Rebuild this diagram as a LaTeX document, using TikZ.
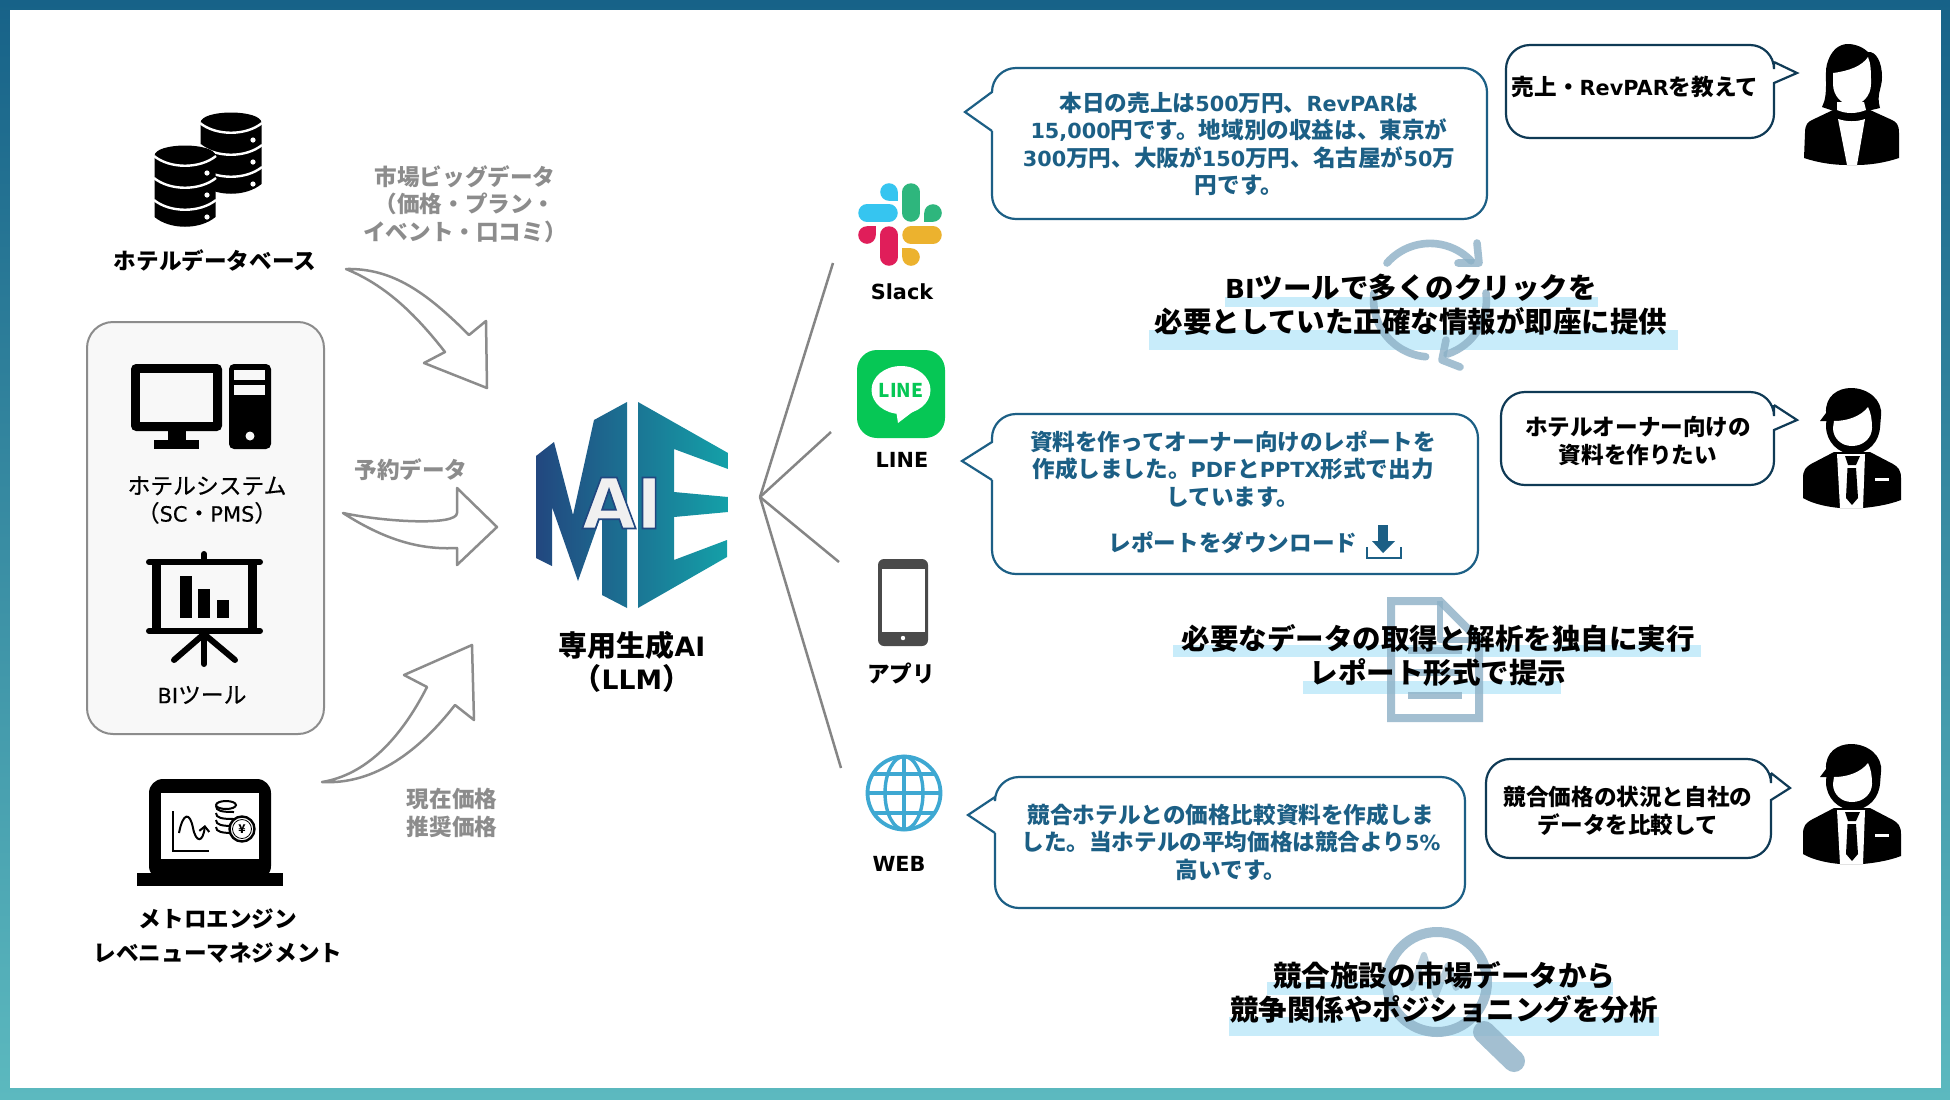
\documentclass[tikz,border=0pt]{standalone}
\usepackage{fontspec}
\setmainfont{Noto Sans CJK JP}
\newfontfamily\latinfam[Scale=0.92]{DejaVu Sans}
\newfontfamily\medfam[FakeBold=0.5]{Noto Sans CJK JP}
\newfontfamily\medlatin[Scale=0.92,FakeBold=0.3]{DejaVu Sans}
\newcommand{\ltn}[1]{{\latinfam #1}}
\usepackage{xcolor}
\usepackage{tikz}
\usetikzlibrary{calc,arrows.meta}
\definecolor{frametop}{HTML}{176288}
\definecolor{framelow}{HTML}{5CB9BF}
\definecolor{replyblue}{HTML}{1C5F85}
\definecolor{askdark}{HTML}{0F3A55}
\definecolor{flowgray}{HTML}{8C8C8C}
\definecolor{softbg}{HTML}{F8F8F8}
\definecolor{markband}{HTML}{C8ECFA}
\definecolor{ghost}{HTML}{8CB0C6}
\definecolor{logonavy}{HTML}{22477F}
\definecolor{logoteal}{HTML}{14A0A8}
\definecolor{globeblue}{HTML}{3EA8D2}
\definecolor{linegreen}{HTML}{06C755}
\definecolor{phonegray}{HTML}{4A4A4A}
\tikzset{
  lbl/.style={font=\bfseries\fontsize{11.3}{13.7}\selectfont,align=center,inner sep=0pt},
  thinlbl/.style={font=\medfam\fontsize{11.4}{13.7}\selectfont,align=center,inner sep=0pt},
  graylbl/.style={lbl,text=flowgray},
  replylbl/.style={lbl,text=replyblue},
  biglbl/.style={font=\bfseries\fontsize{14.25}{17}\selectfont,align=center,inner sep=0pt},
  blockarr/.style={draw=flowgray,fill=white,line width=1.25pt,line join=round},
  spoke/.style={draw=flowgray!95!black,line width=1.25pt},
  replybub/.style={draw=replyblue,fill=white,line width=1.1pt},
  askbub/.style={draw=askdark,fill=white,line width=1.1pt},
  ghosticon/.style={draw=ghost,opacity=.8,line cap=round,line join=round},
}
\begin{document}
\begin{tikzpicture}[x=0.5pt,y=-0.5pt]
\useasboundingbox (0,0) rectangle (1950,1099);
% frame
\shade[top color=frametop,bottom color=framelow] (0,0) rectangle (1950,1099);
\fill[white] (10,10) rectangle (1941,1088);

% sources on the left
\foreach \x/\y in {231/112,185/145}{
  \fill (\x-30.5,\y+11) .. controls (\x-30.5,\y-3) and (\x+30.5,\y-3) .. (\x+30.5,\y+11)
    -- (\x+30.5,\y+72) .. controls (\x+15,\y+85) and (\x-15,\y+85) .. (\x-30.5,\y+72) -- cycle;
  \foreach \k in {11,33,55}{
    \draw[white,line width=1.2pt] (\x-31,\y+\k) .. controls (\x-15,\y+\k+13) and (\x+15,\y+\k+13) .. (\x+31,\y+\k);
  }
  \foreach \k in {28,50,72}{\fill[white] (\x+22,\y+\k) circle (2.6);}
}
\node[lbl] (dblbl) at (215,261) {ホテルデータベース};

\draw[flowgray,fill=softbg,line width=1pt,rounded corners=13pt] (87,322) rectangle (324,734);
% computer
\fill[rounded corners=2.5pt] (131,364) rectangle (222,431);
\fill[softbg] (140,373) rectangle (213,422);
\fill (168,431) rectangle (186,441);
\fill (154,440) rectangle (199,449);
\fill[rounded corners=2.5pt] (229,364) rectangle (271,449);
\fill[softbg] (234,370) rectangle (265,380);
\fill[softbg] (234,385) rectangle (265,395);
\fill[softbg] (250,436) circle (4.5);
\node[thinlbl] (syslbl) at (207,500) {ホテルシステム\\（{\medlatin SC}・{\medlatin PMS}）};
% screen with bars
\draw[line width=3pt,line cap=round] (149,562) -- (260,562);
\draw[line width=3pt,line cap=round] (149,631) -- (260,631);
\draw[line width=3pt,line cap=round] (204,554) -- (204,560);
\draw[line width=4.5pt] (156.5,562) -- (156.5,631);
\draw[line width=4.5pt] (252.5,562) -- (252.5,631);
\fill (180,576) rectangle (192,618);
\fill (198,589) rectangle (210,618);
\fill (217,600) rectangle (229,618);
\draw[line width=3pt,line cap=round] (204,634) -- (204,664);
\draw[line width=3pt,line cap=round] (204,634) -- (174,660);
\draw[line width=3pt,line cap=round] (204,634) -- (235,660);
\node[thinlbl] (bilbl) at (202,695) {{\medlatin BI}ツール};

% laptop
\fill[rounded corners=7pt] (149,779) rectangle (271,880);
\fill (137,873) rectangle (283,886);
\fill[white] (161,793) rectangle (259,859);
\draw[line width=1pt] (173,811) -- (173,851) -- (209,851);
\draw[line width=1pt,-{Straight Barb[length=2.5pt,width=5pt]}] (179,833) .. controls (183,812) and (190,812) .. (193,828) .. controls (196,843) and (203,843) .. (205,825);
\draw[line width=1pt,fill=white] (226,805) ellipse [x radius=10,y radius=4];
\foreach \k in {0,7,14,21}{
  \draw[line width=1pt] (216,806+\k) .. controls (216,811+\k) and (222,812+\k) .. (234,812+\k);
}
\draw[line width=1.2pt,fill=white] (242,829) circle (12.5);
\draw[line width=.4pt] (242,829) circle (9.5);
\node[font=\bfseries\fontsize{6}{6}\selectfont,inner sep=0pt] (yen) at (242,829) {¥};
\node[lbl,font=\bfseries\fontsize{11.3}{17}\selectfont] (melbl) at (218,936) {メトロエンジン\\レベニューマネジメント};

% block arrows
\draw[blockarr] (346,269) .. controls (393,268) and (427,293) .. (469,335) -- (486,321) -- (487,388) -- (424,363) -- (445,352)
  .. controls (410,307) and (380,283) .. (346,269) -- cycle;
\draw[blockarr] (343,513) .. controls (385,522) and (457,526) .. (457,513) -- (457,488) -- (497,527) -- (457,565) -- (457,548)
  .. controls (420,550) and (385,540) .. (343,513) -- cycle;
\draw[blockarr] (322,782) .. controls (365,775) and (400,740) .. (427,687) -- (404,675) -- (472,645) -- (474,720) -- (455,705)
  .. controls (420,750) and (375,785) .. (322,782) -- cycle;
\node[graylbl] (biglbl) at (465,204) {市場ビッグデータ\\（価格・プラン・\\イベント・口コミ）};
\node[graylbl] (rsvlbl) at (411,470) {予約データ};
\node[graylbl,font=\bfseries\fontsize{11.3}{14.3}\selectfont] (pricelbl) at (452,813) {現在価格\\推奨価格};

% logo
\begin{scope}
\clip (536,456) -- (554,442) -- (573,515) -- (594,420) -- (627,402) -- (627,608) -- (602,595) -- (602,513) -- (578,581) -- (552,507) -- (552,566) -- (536,558) -- cycle
  (638,402) -- (728,453) -- (728,469) -- (674,449) -- (674,492) -- (728,497) -- (728,512) -- (674,517) -- (674,560) -- (727,540) -- (727,557) -- (638,608) -- cycle;
\shade[left color=logonavy,right color=logoteal] (536,402) rectangle (728,608);
\end{scope}
\node[font=\bfseries\fontsize{38}{38}\selectfont,text=black!6,inner sep=0pt] (ai) at (622,503) {\special{pdf:code 2 Tr 0.8 w 0.13 0.28 0.5 RG}\ltn{AI}\special{pdf:code 0 Tr 0 w}};
\node[lbl,font=\bfseries\fontsize{14.5}{16.5}\selectfont] (llm) at (632,662) {専用生成\ltn{AI}\\（\ltn{LLM}）};

% fan of lines
\coordinate (hub) at (760,497);
\coordinate (slackend) at (833,263);
\coordinate (lineend) at (831,432);
\coordinate (append) at (839,562);
\coordinate (webend) at (841,768);
\foreach \e in {slackend,lineend,append,webend}{\draw[spoke] (hub) -- (\e);}

% slack
\foreach \c/\xa/\ya/\xb/\yb in {36C5F0/867/213/889/213,2EB67D/911/192/911/213,E01E5A/889/235/889/257,ECB22E/911/235/933/235}{
  \definecolor{tmpc}{HTML}{\c}
  \draw[tmpc,line width=8.75pt,line cap=round] (\xa,\ya) -- (\xb,\yb);
}
\foreach \c/\xa/\ya/\xs/\ys in {36C5F0/889/192/898/201,2EB67D/933/213/924/222,E01E5A/867/235/876/226,ECB22E/911/257/902/248}{
  \definecolor{tmpc}{HTML}{\c}
  \fill[tmpc] (\xa,\ya) circle (8.8);
  \fill[tmpc] (\xa,\ya) rectangle (\xs,\ys);
}
\node[lbl] (slacklbl) at (902,292) {\ltn{Slack}};

% line
\fill[linegreen,rounded corners=10pt] (857,350) rectangle (945,438);
\fill[white] (901,390) ellipse [x radius=29.5,y radius=24];
\fill[white] (896,410) -- (898,423) -- (915,410) -- cycle;
\node[font=\bfseries\fontsize{9.5}{9.5}\selectfont,text=linegreen,inner sep=0pt] (lineicon) at (901,390) {LINE};
\node[lbl] (linelbl) at (902,460) {\ltn{LINE}};

% phone
\fill[phonegray,rounded corners=3pt] (878,559) rectangle (928,646);
\fill[white] (882,569) rectangle (925,632);
\fill[white] (903,638) circle (2.2);
\node[lbl] (applbl) at (901,673) {アプリ};

% globe
\draw[globeblue,line width=1.9pt] (904,793) circle (36.5);
\draw[globeblue,line width=1.7pt] (904,793) ellipse [x radius=19,y radius=36.5];
\draw[globeblue,line width=1.7pt] (904,757) -- (904,830);
\draw[globeblue,line width=1.7pt] (868,793) -- (940,793);
\draw[globeblue,line width=1.7pt] (874,774) -- (934,774);
\draw[globeblue,line width=1.7pt] (874,813) -- (934,813);
\node[lbl] (weblbl) at (899,864) {\ltn{WEB}};

% answers
\draw[replybub] (992,131) -- (965,112) -- (992,92) [rounded corners=12pt] -- (992,68) -- (1487,68) -- (1487,219) -- (992,219) -- (992,131);
\node[replylbl] (ans1) at (1239,144) {本日の売上は\ltn{500}万円、\ltn{RevPAR}は\\\ltn{15,000}円です。地域別の収益は、東京が\\\ltn{300}万円、大阪が\ltn{150}万円、名古屋が\ltn{50}万\\円です。};
\draw[replybub] (992,480) -- (962,461) -- (992,442) [rounded corners=12pt] -- (992,414) -- (1478,414) -- (1478,574) -- (992,574) -- (992,480);
\node[replylbl] (ans2) at (1233,469) {資料を作ってオーナー向けのレポートを\\作成しました。\ltn{PDF}と\ltn{PPTX}形式で出力\\しています。};
\node[replylbl] (dllbl) at (1233,543) {レポートをダウンロード};
\fill[replyblue] (1378,525) rectangle (1388,542);
\fill[replyblue] (1372,541) -- (1395,541) -- (1383,553) -- cycle;
\draw[replyblue,line width=1.2pt] (1367,547) -- (1367,558) -- (1401,558) -- (1401,547);
\draw[replybub] (995,833) -- (968,815) -- (995,797) [rounded corners=12pt] -- (995,777) -- (1465,777) -- (1465,908) -- (995,908) -- (995,833);
\node[replylbl] (ans3) at (1231,842) {競合ホテルとの価格比較資料を作成しま\\した。当ホテルの平均価格は競合より\ltn{5\%}\\高いです。};

% questions
\draw[askbub] (1774,62) -- (1797,73) -- (1774,83) [rounded corners=12pt] -- (1774,138) -- (1506,138) -- (1506,45) -- (1774,45) -- (1774,62);
\node[lbl] (ask1) at (1635,87) {売上・\ltn{RevPAR}を教えて};
\draw[askbub] (1774,405) -- (1797,420) -- (1774,430) [rounded corners=12pt] -- (1774,485) -- (1501,485) -- (1501,392) -- (1774,392) -- (1774,405);
\node[lbl] (ask2) at (1638,441) {ホテルオーナー向けの\\資料を作りたい};
\draw[askbub] (1771,773) -- (1790,788) -- (1771,800) [rounded corners=12pt] -- (1771,858) -- (1486,858) -- (1486,759) -- (1771,759) -- (1771,773);
\node[lbl] (ask3) at (1628,811) {競合価格の状況と自社の\\データを比較して};

% woman
\begin{scope}[shift={(1804,44)}]
\fill (18,63) .. controls (25,50) and (20,30) .. (23,20) .. controls (27,6) and (35,0) .. (44,0) .. controls (52,0) and (60,4) .. (64,8)
  .. controls (72,7) and (78,18) .. (78,33) .. controls (78,45) and (72,50) .. (76,64) -- (59,68) -- (33,68) -- cycle;
\fill (0,114) -- (1,89) .. controls (1,80) and (4,78) .. (8,76) -- (29,66) -- (66,66) -- (88,76) .. controls (92,78) and (95,80) .. (95,89)
  -- (95,114) .. controls (80,119) and (65,121) .. (53,121) -- (43,121) .. controls (30,121) and (15,119) .. (0,114) -- cycle;
\fill[white] (33,58) -- (60,58) -- (62,66) .. controls (52,70) and (42,70) .. (33,66) -- cycle;
\fill[white] (34,75) .. controls (44,78) and (52,78) .. (61,75) -- (53,121) -- (43,121) -- cycle;
\fill[white] (29,29) .. controls (45,27) and (58,22) .. (64,13) .. controls (67,20) and (67,28) .. (67,40) .. controls (67,52) and (58,61) .. (48,61) .. controls (38,61) and (29,52) .. (29,40) -- cycle;
\end{scope}

% men
\foreach \dy in {388,744}{
\begin{scope}[shift={(1803,\dy)}]
\fill (0,110) -- (0,90) .. controls (0,82) and (3,79) .. (8,76) -- (31,64) -- (67,64) -- (90,76) .. controls (95,79) and (98,82) .. (98,90)
  -- (98,112) .. controls (85,117) and (70,119) .. (60,120) -- (37,120) .. controls (25,119) and (10,116) .. (0,110) -- cycle;
\fill[white] (34,66) -- (62,66) -- (60,120) -- (37,120) -- cycle;
\fill (42,68) -- (57,68) -- (53,77) -- (45,77) -- cycle;
\fill (44.5,80) -- (53,80) -- (55,110) -- (49,117) -- (43,110) -- cycle;
\fill[white] (72,90) rectangle (86,93);
\fill (50,38) ellipse [x radius=27,y radius=28];
\fill (17,33) -- (23,25) .. controls (22,8) and (35,0) .. (48,0) .. controls (65,0) and (80,12) .. (78,28) -- (77,40) -- (30,40) -- (30,33) -- cycle;
\fill[white] (31,33) .. controls (45,33) and (58,28) .. (65,19) .. controls (68,25) and (69,32) .. (69,40) .. controls (69,50) and (60,58) .. (49,58) .. controls (38,58) and (30,50) .. (30,40) -- cycle;
\end{scope}
}

% highlight bands
\fill[markband] (1225,297) rectangle (1598,307);
\fill[markband] (1149,330) rectangle (1678,350);
\fill[markband] (1173,645) rectangle (1701,657);
\fill[markband] (1303,681) rectangle (1561,694);
\fill[markband] (1267,982) rectangle (1613,995);
\fill[markband] (1229,1017) rectangle (1659,1036);

% refresh icon
\draw[ghosticon,line width=3.8pt] (1387,263) arc [start angle=221,end angle=316,radius=57];
\draw[ghosticon,line width=3.8pt] (1477,243) -- (1479,263) -- (1458,263);
\draw[ghosticon,line width=3.8pt] (1486,293) arc [start angle=-7,end angle=72,radius=57];
\draw[ghosticon,line width=3.8pt] (1446,340) -- (1442,360) -- (1460,367);
\draw[ghosticon,line width=3.8pt] (1374,293) arc [start angle=187,end angle=95,radius=57];

% paper icon
\draw[ghosticon,line width=4pt,line cap=butt,line join=miter] (1391,601) -- (1440,601) -- (1479,640) -- (1479,718) -- (1391,718) -- cycle;
\draw[ghosticon,line width=3pt,line cap=butt] (1440,601) -- (1440,640) -- (1479,640);
\foreach \y in {650,672,695}{\draw[ghosticon,line width=3.5pt,line cap=butt] (1408,\y) -- (1462,\y);}

% magnifier
\draw[ghosticon,line width=5pt] (1437,982) circle (50);
\draw[ghosticon,line width=11pt] (1484,1032) -- (1514,1061);
\draw[ghosticon,line width=3pt,opacity=.6] (1412,988) -- (1424,955) -- (1436,995) -- (1448,965) -- (1456,988) -- (1466,975);

\node[biglbl] (bigtext1) at (1411,305) {\ltn{BI}ツールで多くのクリックを\\必要としていた正確な情報が即座に提供};
\node[biglbl] (bigtext2) at (1438,655) {必要なデータの取得と解析を独自に実行\\レポート形式で提示};
\node[biglbl] (bigtext3) at (1444,992) {競合施設の市場データから\\競争関係やポジショニングを分析};
\end{tikzpicture}
\end{document}
